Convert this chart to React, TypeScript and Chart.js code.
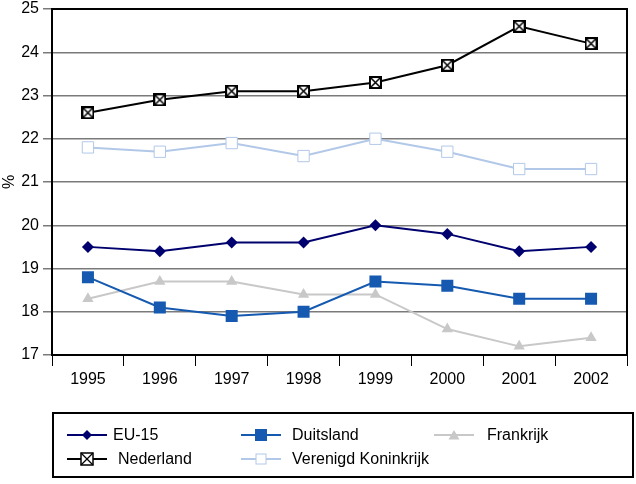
import React, { useEffect, useRef } from "react";
import { Chart, registerables } from "chart.js";

Chart.register(...registerables);

const years = ["1995", "1996", "1997", "1998", "1999", "2000", "2001", "2002"];
const eu15 = [19.5, 19.4, 19.6, 19.6, 20.0, 19.8, 19.4, 19.5];
const duitsland = [18.8, 18.1, 17.9, 18.0, 18.7, 18.6, 18.3, 18.3];
const frankrijk = [18.3, 18.7, 18.7, 18.4, 18.4, 17.6, 17.2, 17.4];
const nederland = [22.6, 22.9, 23.1, 23.1, 23.3, 23.7, 24.6, 24.2];
const verenigdKoninkrijk = [21.8, 21.7, 21.9, 21.6, 22.0, 21.7, 21.3, 21.3];

const yMin = 17;
const yMax = 25;

const FONT = "'Liberation Sans', Arial, sans-serif";

const C_EU = "#00006e";
const C_DE = "#155ab0";
const C_FR = "#c8c8c8";
const C_NL = "#000000";
const C_UK = "#b2c8e8";

function makeBoxX(size: number): HTMLCanvasElement {
  const c = document.createElement("canvas");
  c.width = size;
  c.height = size;
  const ctx = c.getContext("2d")!;
  ctx.fillStyle = "#fff";
  ctx.fillRect(0, 0, size, size);
  ctx.strokeStyle = "#000";
  ctx.lineWidth = 2;
  ctx.strokeRect(1, 1, size - 2, size - 2);
  ctx.lineWidth = 1.5;
  ctx.beginPath();
  ctx.moveTo(2, 2);
  ctx.lineTo(size - 2, size - 2);
  ctx.moveTo(size - 2, 2);
  ctx.lineTo(2, size - 2);
  ctx.stroke();
  return c;
}

const frameBorder = {
  id: "frameBorder",
  afterDraw(chart: any) {
    const { ctx, chartArea } = chart;
    ctx.save();
    ctx.strokeStyle = "#000";
    ctx.lineWidth = 2;
    ctx.beginPath();
    ctx.moveTo(chartArea.left, chartArea.top);
    ctx.lineTo(chartArea.right, chartArea.top);
    ctx.lineTo(chartArea.right, chartArea.bottom);
    ctx.stroke();
    ctx.restore();
  },
};

function LegendMark({ kind, color }: { kind: string; color: string }) {
  return (
    <svg width={40} height={14} style={{ display: "block" }}>
      <line x1={0} y1={7} x2={40} y2={7} stroke={color} strokeWidth={2} />
      {kind === "diamond" && <polygon points="20,2 25,7 20,12 15,7" fill={color} />}
      {kind === "square" && <rect x={14} y={1} width={12} height={12} fill={color} />}
      {kind === "triangle" && <polygon points="20,2 25.5,11.5 14.5,11.5" fill={color} />}
      {kind === "boxx" && (
        <g>
          <rect x={14} y={1} width={12} height={12} fill="#fff" stroke="#000" strokeWidth={1.5} />
          <line x1={14} y1={1} x2={26} y2={13} stroke="#000" strokeWidth={1.2} />
          <line x1={26} y1={1} x2={14} y2={13} stroke="#000" strokeWidth={1.2} />
        </g>
      )}
      {kind === "hollow" && <rect x={15} y={2} width={10} height={10} fill="#fff" stroke={color} strokeWidth={1} />}
    </svg>
  );
}

const legendItems = [
  { label: "EU-15", kind: "diamond", color: C_EU, x: 67, tx: 113, y: 435 },
  { label: "Duitsland", kind: "square", color: C_DE, x: 241, tx: 292, y: 435 },
  { label: "Frankrijk", kind: "triangle", color: C_FR, x: 434, tx: 487, y: 435 },
  { label: "Nederland", kind: "boxx", color: C_NL, x: 67, tx: 118, y: 459 },
  { label: "Verenigd Koninkrijk", kind: "hollow", color: C_UK, x: 241, tx: 292, y: 459 },
];

export default function App() {
  const ref = useRef<HTMLCanvasElement | null>(null);

  useEffect(() => {
    document.body.style.margin = "0";
    const boxX = makeBoxX(13);
    const chart = new Chart(ref.current!, {
      type: "line",
      data: {
        labels: years,
        datasets: [
          {
            label: "EU-15",
            data: eu15,
            borderColor: C_EU,
            backgroundColor: C_EU,
            borderWidth: 2,
            pointStyle: "rectRot",
            pointRadius: 6,
            pointBorderWidth: 0,
          },
          {
            label: "Duitsland",
            data: duitsland,
            borderColor: C_DE,
            backgroundColor: C_DE,
            borderWidth: 2,
            pointStyle: "rect",
            pointRadius: 8.5,
            pointBorderWidth: 0,
          },
          {
            label: "Frankrijk",
            data: frankrijk,
            borderColor: C_FR,
            backgroundColor: C_FR,
            borderWidth: 2,
            pointStyle: "triangle",
            pointRadius: 6.5,
            pointBorderWidth: 0,
          },
          {
            label: "Nederland",
            data: nederland,
            borderColor: C_NL,
            backgroundColor: C_NL,
            borderWidth: 2,
            pointStyle: boxX as any,
            pointRadius: 7,
          },
          {
            label: "Verenigd Koninkrijk",
            data: verenigdKoninkrijk,
            borderColor: C_UK,
            backgroundColor: "#ffffff",
            borderWidth: 2,
            pointStyle: "rect",
            pointRadius: 8,
            pointBorderWidth: 1,
            pointBorderColor: C_UK,
          },
        ],
      },
      options: {
        animation: false,
        responsive: false,
        events: [],
        layout: { padding: { top: 5, right: 2, left: 0, bottom: 0 } },
        plugins: {
          legend: { display: false },
          tooltip: { enabled: false },
        },
        scales: {
          x: {
            offset: true,
            grid: {
              offset: true,
              drawOnChartArea: false,
              drawTicks: true,
              tickLength: 11,
              color: "#000",
              lineWidth: 1,
            },
            border: { display: true, color: "#000", width: 2 },
            ticks: {
              color: "#000",
              font: { family: FONT, size: 16 },
              padding: 4,
              maxRotation: 0,
            },
            afterFit(scale: any) {
              scale.height = 484 - 355;
              scale.paddingLeft = 0;
              scale.paddingRight = 0;
            },
          },
          y: {
            min: yMin,
            max: yMax,
            ticks: {
              stepSize: 1,
              color: "#000",
              font: { family: FONT, size: 16 },
              padding: 4,
            },
            grid: {
              color: "#7a7a7a",
              lineWidth: 1.5,
              tickLength: 9,
              drawTicks: true,
            },
            border: { display: true, color: "#000", width: 2 },
            title: {
              display: true,
              text: "%",
              color: "#000",
              font: { family: FONT, size: 16 },
              padding: 0,
            },
            afterFit(scale: any) {
              scale.width = 52;
              scale.paddingTop = 0;
              scale.paddingBottom = 0;
            },
          },
        },
      },
      plugins: [frameBorder],
    });
    return () => chart.destroy();
  }, []);

  return (
    <div style={{ position: "relative", width: 636, height: 484, background: "#fff", fontFamily: FONT, overflow: "hidden" }}>
      <canvas ref={ref} width={636} height={484} style={{ position: "absolute", left: 0, top: 0 }} />
      <div
        style={{
          position: "absolute",
          left: 52,
          top: 412,
          width: 582,
          height: 66,
          border: "2px solid #000",
          boxSizing: "border-box",
        }}
      />
      {legendItems.map((it) => (
        <React.Fragment key={it.label}>
          <div style={{ position: "absolute", left: it.x, top: it.y - 7 }}>
            <LegendMark kind={it.kind} color={it.color} />
          </div>
          <div
            style={{
              position: "absolute",
              left: it.tx,
              top: it.y - 10,
              height: 20,
              lineHeight: "20px",
              fontSize: 16,
              color: "#000",
              whiteSpace: "nowrap",
            }}
          >
            {it.label}
          </div>
        </React.Fragment>
      ))}
    </div>
  );
}
